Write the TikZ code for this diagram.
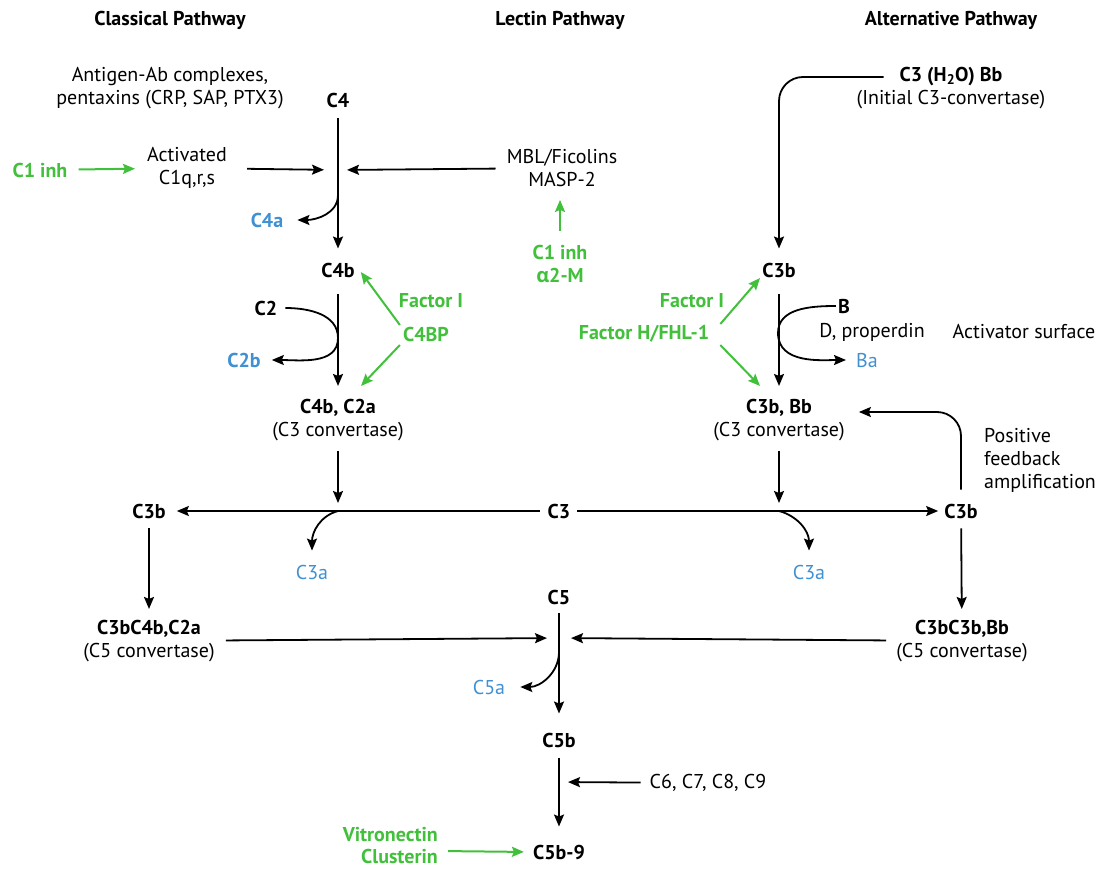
\documentclass[tikz,border=0pt]{standalone}
\usepackage{fontspec}
\setmainfont{PT Sans}
\newfontfamily\grk{Open Sans}
\usetikzlibrary{arrows.meta}
\definecolor{grn}{RGB}{66,192,60}
\definecolor{blu}{RGB}{64,144,210}
\begin{document}
\begin{tikzpicture}[x=1pt,y=-1pt,
 every node/.style={font=\fontsize{20}{23}\selectfont, inner sep=2pt, align=center},
 bl/.style={font=\fontsize{20}{23}\selectfont\bfseries},
 gl/.style={font=\fontsize{20}{23}\selectfont\bfseries, text=grn},
 bu/.style={font=\fontsize{20}{23}\selectfont, text=blu},
 bub/.style={font=\fontsize{20}{23}\selectfont\bfseries, text=blu},
 arr/.style={draw=black, line width=1.8pt, -{Stealth[length=12pt,width=10pt,inset=2pt]}},
 garr/.style={draw=grn, line width=2pt, -{Stealth[length=12pt,width=10pt,inset=2pt]}},
]
\useasboundingbox (0,0) rectangle (1099,872);
% titles
\node[bl] (tcl) at (170,20) {Classical Pathway};
\node[bl] (tle) at (560,20) {Lectin Pathway};
\node[bl] (tal) at (951,20) {Alternative Pathway};
% classical top
\node (ag) at (170,88) {Antigen-Ab complexes,\\pentaxins (CRP, SAP, PTX3)};
\node[bl] (C4) at (338,100) {C4};
\node (act) at (187,168) {Activated\\C1q,r,s};
\node[gl] (c1l) at (40,170) {C1 inh};
\node (mbl) at (562,168) {MBL/Ficolins\\MASP-2};
\node[bub] (C4a) at (267,220) {C4a};
\node[gl] (c1m) at (560,264) {C1 inh\\{\grk\bfseries α}2-M};
\node[bl] (C4b) at (338,270) {C4b};
\node[bl] (C2) at (266,308) {C2};
\node[bub] (C2b) at (244,360) {C2b};
\node[gl] (fI1) at (431,301) {Factor I};
\node[gl] (c4bp) at (426,334) {C4BP};
\node (C4b2a) at (338,420) {\textbf{C4b, C2a}\\(C3 convertase)};
% alternative
\node (ini) at (951,88) {\textbf{C3 (H\textsubscript{2}O) Bb}\\(Initial C3-convertase)};
\node[bl] (C3bA) at (779,270) {C3b};
\node[bl] (B) at (844,306) {B};
\node (Dp) at (872,332) {D, properdin};
\node[bu] (Ba) at (867,360) {Ba};
\node (asf) at (1024,332) {Activator surface};
\node[gl] (fI2) at (692,301) {Factor I};
\node[gl] (fH) at (644,334) {Factor H/FHL-1};
\node (C3bBb) at (779,420) {\textbf{C3b, Bb}\\(C3 convertase)};
\node[align=left,anchor=west] (pf) at (982,460) {Positive\\feedback\\amplification};
% C3 row
\node[bl] (C3bL) at (149,511) {C3b};
\node[bl] (C3) at (559,511) {C3};
\node[bl] (C3bR) at (961,511) {C3b};
\node[bu] (C3aL) at (312,572) {C3a};
\node[bu] (C3aR) at (809,572) {C3a};
% terminal
\node[bl] (C5) at (559,597) {C5};
\node (cv5L) at (149,641) {\textbf{C3bC4b,C2a}\\(C5 convertase)};
\node (cv5R) at (962,641) {\textbf{C3bC3b,Bb}\\(C5 convertase)};
\node[bu] (C5a) at (489,687) {C5a};
\node[bl] (C5b) at (559,740) {C5b};
\node (c69) at (708,783) {C6, C7, C8, C9};
\node[bl] (C5b9) at (559,852) {C5b-9};
\node[gl, align=right, anchor=east, font=\fontsize{20}{22}\selectfont\bfseries] (vc) at (440,846) {Vitronectin\\Clusterin};
% junctions
\coordinate (j1) at (338,170);
\coordinate (j4a) at (338,195);
\coordinate (jc2) at (338,338);
\coordinate (jb) at (778,333);
\coordinate (j3L) at (338,511);
\coordinate (j3R) at (779,511);
\coordinate (j5) at (559,638);
\coordinate (j5a) at (559,652);
\coordinate (j6) at (559,782);
% classical connectors
\draw[arr, shorten <=9pt, shorten >=12pt] (C4) -- (C4b);
\draw[arr, shorten <=18pt, shorten >=14pt] (act) -- (j1);
\draw[arr, shorten <=9pt, shorten >=9pt] (mbl) -- (j1);
\draw[garr, shorten <=9pt, shorten >=10pt] (c1l) -- (act);
\draw[arr] (j4a) to[out=-90,in=0] ([xshift=12pt]C4a.east);
\draw[garr, shorten <=12pt, shorten >=11pt] (c1m.north) -- (c1m.north |- mbl.south);
\draw[arr, shorten <=15pt, shorten >=11pt] (C4b) -- (C4b2a);
\draw[arr] ([xshift=6pt]C2.east) to[out=0,in=90] (jc2) to[out=-90,in=0] ([xshift=9pt]C2b.east);
\draw[garr] ([xshift=-1pt,yshift=9pt]c4bp.west) -- ([xshift=4pt,yshift=-2pt]C4b.east);
\draw[garr] ([xshift=-1pt,yshift=-11pt]c4bp.west) -- ([xshift=23pt,yshift=11pt]C4b2a.north);
\draw[arr, shorten <=8pt, shorten >=8pt] (C4b2a) -- (j3L);
% alternative connectors
\draw[arr, rounded corners=24pt, shorten >=12pt] ([xshift=29pt,yshift=11pt]ini.west) -| (C3bA);
\draw[arr, shorten <=15pt, shorten >=11pt] (C3bA) -- (C3bBb);
\draw[arr, shorten >=8pt] (B.west) to[out=180,in=90] (jb) to[out=-90,in=180] (Ba.west);
\draw[garr] ([xshift=9pt,yshift=10pt]fH.east) -- ([xshift=-19pt,yshift=-8pt]C3bA.center);
\draw[garr] ([xshift=9pt,yshift=-11pt]fH.east) -- ([xshift=-19pt,yshift=11pt]C3bBb.north);
\draw[arr, shorten <=8pt, shorten >=8pt] (C3bBb) -- (j3R);
\draw[arr, rounded corners=24pt, shorten <=12pt] (C3bR.north) |- ([xshift=12pt,yshift=8pt]C3bBb.east);
% C3 row connectors
\draw[arr, shorten <=6pt, shorten >=9pt] (C3) -- (C3bL);
\draw[arr, shorten <=5pt, shorten >=4pt] (C3) -- (C3bR);
\draw[arr] (j3L) to[out=195,in=90] ([yshift=12pt]C3aL.north);
\draw[arr] (j3R) to[out=-15,in=90] ([yshift=12pt]C3aR.north);
\draw[arr, shorten <=8pt, shorten >=9pt] (C3bL) -- (cv5L);
\draw[arr, shorten <=8pt, shorten >=9pt] (C3bR) -- (cv5R);
% terminal connectors
\draw[arr, shorten <=9pt, shorten >=12pt] (cv5L) -- (j5);
\draw[arr, shorten <=8pt, shorten >=12pt] (cv5R) -- (j5);
\draw[arr, shorten <=7pt, shorten >=17pt] (C5) -- (C5b);
\draw[arr] (j5a) to[out=-90,in=0] ([xshift=13pt]C5a.east);
\draw[arr, shorten <=9pt, shorten >=16pt] (C5b) -- (C5b9);
\draw[arr, shorten <=7pt, shorten >=9pt] (c69) -- (j6);
\draw[garr, shorten <=8pt, shorten >=7pt] ([yshift=-5pt]vc.east) -- (C5b9.west);
\end{tikzpicture}
\end{document}
